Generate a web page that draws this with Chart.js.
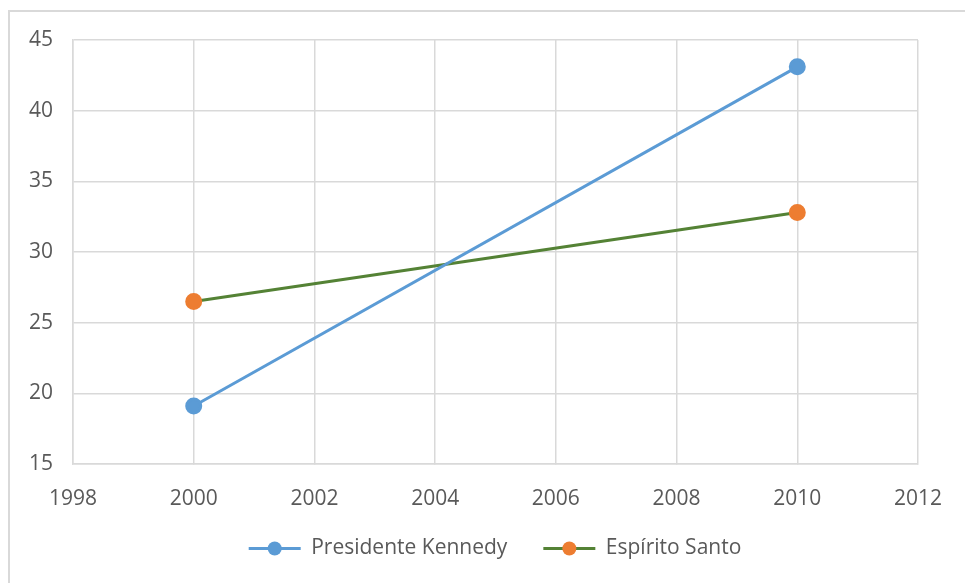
<!DOCTYPE html>
<html>
<head>
<meta charset="utf-8">
<script src="https://cdn.jsdelivr.net/npm/chart.js@4"></script>
<style>
  html, body { margin: 0; padding: 0; background: #fff; overflow: hidden; }
  #frame { position: absolute; left: 8px; top: 10px; width: 1000px; height: 700px;
           border-top: 2px solid #d9d9d9; border-left: 2px solid #d9d9d9; }
  #wrap { position: absolute; left: 0; top: 0; width: 965px; height: 583px; }
</style>
</head>
<body>
<div id="frame"></div>
<div id="wrap"><canvas id="c" width="965" height="583"></canvas></div>
<script>
const years = [2000, 2010];
const seriesNames = ["Presidente Kennedy", "Espírito Santo"];
const kennedy = [19.1, 43.1];
const espiritoSanto = [26.5, 32.8];
const xTicks = [1998, 2000, 2002, 2004, 2006, 2008, 2010, 2012];
const yTicks = [15, 20, 25, 30, 35, 40, 45];

const FONT = "'Open Sans', 'Liberation Sans', sans-serif";

const colors = [
  { line: '#5B9BD5', dot: '#5B9BD5' },
  { line: '#548235', dot: '#ED7D31' }
];
const values = [kennedy, espiritoSanto];

const datasets = seriesNames.map((name, i) => ({
  label: name,
  data: years.map((yr, j) => ({ x: yr, y: values[i][j] })),
  borderColor: colors[i].line,
  backgroundColor: colors[i].dot,
  pointBackgroundColor: colors[i].dot,
  pointBorderColor: colors[i].dot,
  pointRadius: 7,
  pointHoverRadius: 7,
  borderWidth: 3,
  tension: 0,
  fill: false
}));

const BOXW = 52;
const LEGEND_H = 42;
const LEGEND_SHIFT_X = 36;
const LEGEND_TOP = 502;
const legendTweaks = {
  id: 'legendTweaks',
  beforeLayout(chart) {
    const lg = chart.legend;
    if (lg && !lg._patched) {
      const f = lg.fit;
      lg.fit = function () { f.call(this); this.height = LEGEND_H; };
      lg._patched = true;
    }
  },
  afterLayout(chart) {
    const lg = chart.legend;
    if (lg) {
      lg.left += LEGEND_SHIFT_X; lg.right += LEGEND_SHIFT_X;
      lg.top = LEGEND_TOP; lg.bottom = chart.height;
      lg.height = lg.bottom - lg.top;
    }
  },
  afterDraw(chart) {
    const lg = chart.legend;
    if (!lg || !lg.legendHitBoxes) return;
    const ctx = chart.ctx;
    lg.legendHitBoxes.forEach((hb, i) => {
      ctx.save();
      ctx.fillStyle = colors[i].dot;
      ctx.beginPath();
      ctx.arc(hb.left + BOXW / 2, hb.top + hb.height / 2, 7, 0, Math.PI * 2);
      ctx.fill();
      ctx.restore();
    });
  }
};

new Chart(document.getElementById('c'), {
  type: 'line',
  data: { datasets },
  plugins: [legendTweaks],
  options: {
    responsive: false,
    animation: false,
    layout: { padding: { left: 0, right: 47, top: 40, bottom: 15 } },
    scales: {
      x: {
        type: 'linear', min: 1998, max: 2012,
        afterBuildTicks: s => { s.ticks = xTicks.map(v => ({ value: v })); },
        afterFit: s => { s.height = 62; },
        grid: { color: '#d9d9d9', lineWidth: 1.5, tickLength: 0 },
        border: { color: '#d9d9d9', width: 1.5 },
        ticks: { color: '#595959', font: { family: FONT, size: 21 }, padding: 22,
                 callback: v => String(v), maxRotation: 0 }
      },
      y: {
        type: 'linear', min: 15, max: 45,
        afterBuildTicks: s => { s.ticks = yTicks.map(v => ({ value: v })); },
        afterFit: s => { s.width = 73; },
        grid: { color: '#d9d9d9', lineWidth: 1.5, tickLength: 0 },
        border: { color: '#d9d9d9', width: 1.5 },
        ticks: { color: '#595959', font: { family: FONT, size: 21 }, padding: 20 }
      }
    },
    plugins: {
      tooltip: { enabled: false },
      legend: {
        position: 'bottom',
        labels: {
          usePointStyle: false,
          color: '#595959',
          font: { family: FONT, size: 21 },
          padding: 36,
          boxWidth: BOXW,
          boxHeight: 3,
          generateLabels: chart => chart.data.datasets.map((d, i) => ({
            text: d.label,
            fillStyle: colors[i].line,
            strokeStyle: colors[i].line,
            lineWidth: 0,
            hidden: false,
            datasetIndex: i,
            fontColor: '#595959'
          }))
        }
      }
    }
  }
});
</script>
</body>
</html>
